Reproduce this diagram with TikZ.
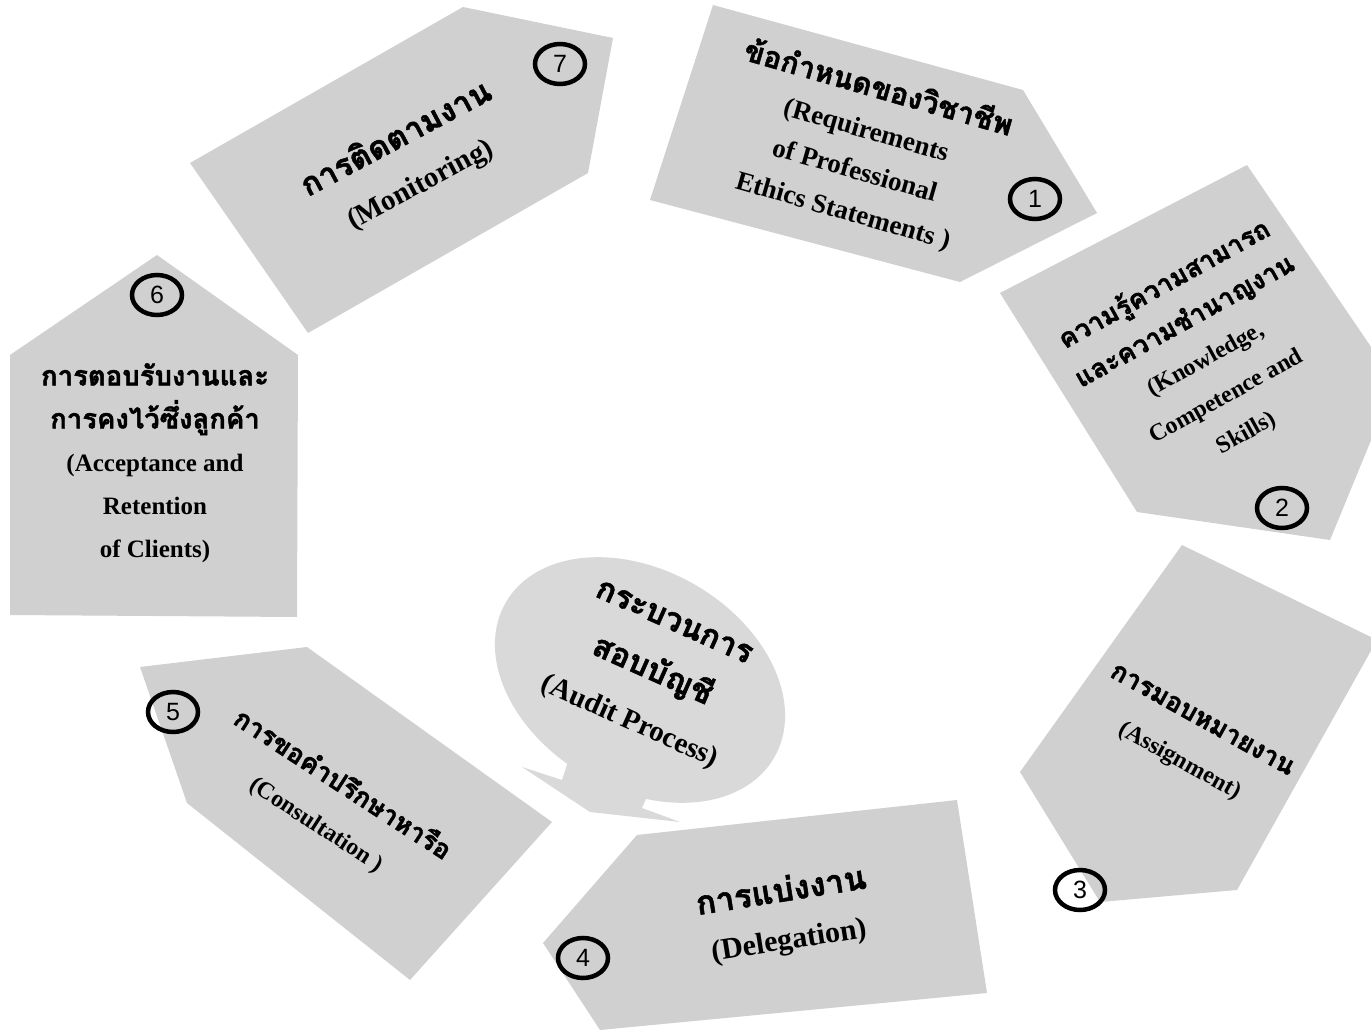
\documentclass[tikz,border=0pt]{standalone}
\usepackage{fontspec}
\usetikzlibrary{shapes.geometric}
\setmainfont{Liberation Serif}
\newfontfamily\thai[Script=Thai, FakeBold=1.5, Scale=1.1]{Loma}
\newfontfamily\numfont{Liberation Sans}
\begin{document}
\begin{tikzpicture}[x=1pt,y=-1pt]
\definecolor{boxgray}{HTML}{D0D0D0}
\definecolor{bubgray}{HTML}{D9D9D9}
\tikzset{
  box/.style={fill=boxgray, draw=none},
  lbl/.style 2 args={align=center, inner sep=0pt, font=\fontsize{#1}{#2}\selectfont\bfseries},
  num/.style={draw=black, line width=4.5pt, ellipse, minimum width=50pt, minimum height=40pt, inner sep=0pt, font=\fontsize{25}{25}\selectfont\numfont}
}
\path[use as bounding box] (0,0) rectangle (1371,1032);
\clip (0,0) rectangle (1371,1032);
% shapes
\path[box] (463,7) -- (613,38) -- (588,173) -- (308,333) -- (190,163) -- cycle;
\path[box] (713,5) -- (1023,90) -- (1097,213) -- (960,282) -- (650,200) -- cycle;
\path[box] (1000,293) -- (1247,165) -- (1395,382) -- (1330,540) -- (1137,512) -- cycle;
\path[box] (1182,545) -- (1377,640) -- (1237,890) -- (1100,902) -- (1020,772) -- cycle;
\path[box] (637,835) -- (957,800) -- (987,993) -- (600,1030) -- (543,943) -- cycle;
\path[box] (140,667) -- (307,647) -- (552,822) -- (410,980) -- (187,803) -- cycle;
\path[box] (157,255) -- (298,355) -- (297,617) -- (10,615) -- (10,355) -- cycle;
% bubble
\path[fill=bubgray] (575,740) -- (562,780) -- (522,767) -- (590,812) -- (680,822) -- (642,808) -- (655,778) -- (665,740) -- cycle;
\path[fill=bubgray, rotate around={-30:(640,680)}] (640,680) ellipse [x radius=155, y radius=110];
\node[lbl={29}{54}, rotate=-24] (ctr) at (651,674) {{\thai กระบวนการ}\\{\thai สอบบัญชี}\\(Audit Process)};
% labels
\node[lbl={29}{50}, rotate=28] (t7) at (408,161) {{\thai การติดตามงาน}\\(Monitoring)};
\node[lbl={27}{42}, rotate=-16] (t1) at (861,149) {{\thai ข้อกำหนดของวิชาชีพ}\\(Requirements\\of Professional\\Ethics Statements )};
\node[lbl={24}{42}, rotate=29] (t2) at (1205,358) {{\thai ความรู้ความสามารถ}\\{\thai และความชำนาญงาน}\\(Knowledge,\\Competence and\\Skills)};
\node[lbl={24}{46}, rotate=-29] (t3) at (1190,742) {{\thai การมอบหมายงาน}\\(Assignment)};
\node[lbl={30}{48}, rotate=9] (t4) at (785,916) {{\thai การแบ่งงาน}\\(Delegation)};
\node[lbl={24}{46}, rotate=-33] (t5) at (330,804) {{\thai การขอคำปรึกษาหารือ}\\(Consultation )};
\node[lbl={25}{43}] (t6) at (155,463) {{\thai การตอบรับงานและ}\\{\thai การคงไว้ซึ่งลูกค้า}\\(Acceptance and\\Retention\\of Clients)};
% numbers
\node[num] (n7) at (560,64) {7};
\node[num] (n1) at (1035,199) {1};
\node[num] (n2) at (1282,508) {2};
\node[num] (n3) at (1080,890) {3};
\node[num] (n4) at (583,958) {4};
\node[num] (n5) at (173,712) {5};
\node[num] (n6) at (157,295) {6};
\end{tikzpicture}
\end{document}
